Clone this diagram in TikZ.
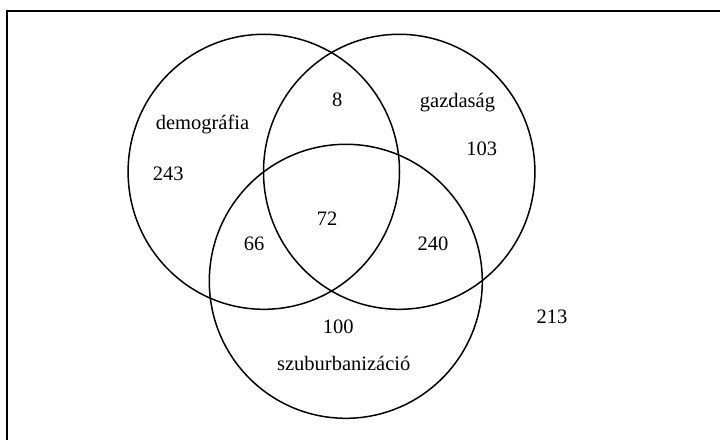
\documentclass[tikz,border=0pt]{standalone}
\usepackage{fontspec}
\setmainfont{Liberation Serif}
\begin{document}
\begin{tikzpicture}[x=1pt,y=-1pt,
  setcircle/.style={draw=black,line width=1.5pt},
  lbl/.style={anchor=base,inner sep=0pt,font=\fontsize{20.5}{24}\selectfont}]
\useasboundingbox (0,0) rectangle (720,439);
\clip (0,0) rectangle (720,439);
\draw[line width=2pt] (7,11) rectangle (740,460);
\draw[setcircle] (263.8,171.8) ellipse [x radius=135.7,y radius=137.5];
\draw[setcircle] (399.2,171.8) ellipse [x radius=135.7,y radius=137.5];
\draw[setcircle] (345.8,281.3) ellipse [x radius=136.5,y radius=137];
\node[lbl] (demo) at (202.5,129.3) {demográfia};
\node[lbl] (gazd) at (457.5,107.3) {gazdaság};
\node[lbl] (szub) at (343.7,370) {szuburbanizáció};
\node[lbl] (n8) at (337.3,106.7) {8};
\node[lbl] (n243) at (168.3,180) {243};
\node[lbl] (n103) at (481.7,155) {103};
\node[lbl] (n72) at (327,225) {72};
\node[lbl] (n66) at (254,250.7) {66};
\node[lbl] (n240) at (433,250.7) {240};
\node[lbl] (n100) at (338.3,333.3) {100};
\node[lbl] (n213) at (552,323.3) {213};
\end{tikzpicture}
\end{document}
